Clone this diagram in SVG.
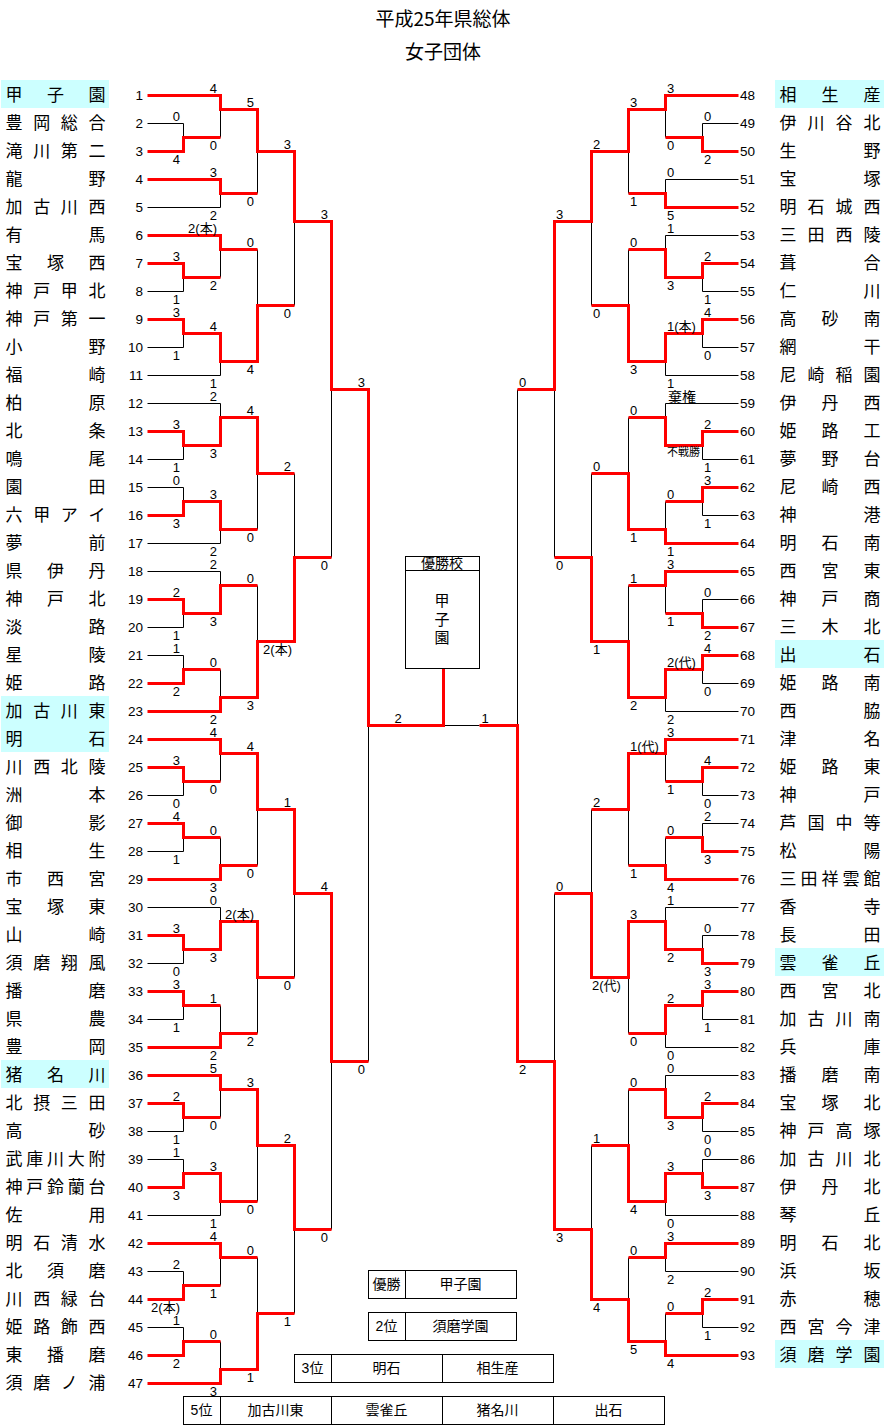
<svg xmlns="http://www.w3.org/2000/svg" width="885" height="1425" viewBox="0 0 885 1425">
<style>
.k{fill:none;stroke:#000;stroke-width:1}
.r{fill:none;stroke:#f00;stroke-width:3;stroke-linejoin:miter}
.bx{fill:#fff;stroke:#000;stroke-width:1}
.hl{fill:#ccffff}
.nm{font-family:"Noto Sans CJK JP",sans-serif;font-size:17px;text-anchor:middle;fill:#000}
.nl{font-family:"Liberation Sans",sans-serif;font-size:13.5px;text-anchor:end;fill:#000}
.nr{font-family:"Liberation Sans",sans-serif;font-size:13.5px;text-anchor:start;fill:#000}
.sl{font-family:"Liberation Sans","Noto Sans CJK JP",sans-serif;font-size:13px;text-anchor:end;fill:#000}
.sr{font-family:"Liberation Sans","Noto Sans CJK JP",sans-serif;font-size:13px;text-anchor:start;fill:#000}
.sm{font-family:"Liberation Sans","Noto Sans CJK JP",sans-serif;font-size:13px;text-anchor:middle;fill:#000}
.tt{font-family:"Noto Sans CJK JP",sans-serif;font-size:19px;text-anchor:middle;fill:#000}
.bt{font-family:"Liberation Sans","Noto Sans CJK JP",sans-serif;font-size:14px;text-anchor:middle;fill:#000}
</style>
<rect x="0" y="0" width="885" height="1425" fill="#fff"/>
<g id="title">
<text class="tt" x="443" y="26">平成25年県総体</text>
<text class="tt" x="443" y="59">女子団体</text>
</g>
<g id="left-teams">
<g id="t1"><rect class="hl" x="1" y="80" width="108" height="28"/><text class="nm" x="14 55.5 97" y="101">甲子園</text><text class="nl" x="143" y="100">1</text></g>
<g id="t2"><text class="nm" x="14 41.7 69.3 97" y="129">豊岡総合</text><text class="nl" x="143" y="128">2</text></g>
<g id="t3"><text class="nm" x="14 41.7 69.3 97" y="157">滝川第二</text><text class="nl" x="143" y="156">3</text></g>
<g id="t4"><text class="nm" x="14 97" y="185">龍野</text><text class="nl" x="143" y="184">4</text></g>
<g id="t5"><text class="nm" x="14 41.7 69.3 97" y="213">加古川西</text><text class="nl" x="143" y="212">5</text></g>
<g id="t6"><text class="nm" x="14 97" y="241">有馬</text><text class="nl" x="143" y="240">6</text></g>
<g id="t7"><text class="nm" x="14 55.5 97" y="269">宝塚西</text><text class="nl" x="143" y="268">7</text></g>
<g id="t8"><text class="nm" x="14 41.7 69.3 97" y="297">神戸甲北</text><text class="nl" x="143" y="296">8</text></g>
<g id="t9"><text class="nm" x="14 41.7 69.3 97" y="325">神戸第一</text><text class="nl" x="143" y="324">9</text></g>
<g id="t10"><text class="nm" x="14 97" y="353">小野</text><text class="nl" x="143" y="352">10</text></g>
<g id="t11"><text class="nm" x="14 97" y="381">福崎</text><text class="nl" x="143" y="380">11</text></g>
<g id="t12"><text class="nm" x="14 97" y="409">柏原</text><text class="nl" x="143" y="408">12</text></g>
<g id="t13"><text class="nm" x="14 97" y="437">北条</text><text class="nl" x="143" y="436">13</text></g>
<g id="t14"><text class="nm" x="14 97" y="465">鳴尾</text><text class="nl" x="143" y="464">14</text></g>
<g id="t15"><text class="nm" x="14 97" y="493">園田</text><text class="nl" x="143" y="492">15</text></g>
<g id="t16"><text class="nm" x="14 41.7 69.3 97" y="521">六甲アイ</text><text class="nl" x="143" y="520">16</text></g>
<g id="t17"><text class="nm" x="14 97" y="549">夢前</text><text class="nl" x="143" y="548">17</text></g>
<g id="t18"><text class="nm" x="14 55.5 97" y="577">県伊丹</text><text class="nl" x="143" y="576">18</text></g>
<g id="t19"><text class="nm" x="14 55.5 97" y="605">神戸北</text><text class="nl" x="143" y="604">19</text></g>
<g id="t20"><text class="nm" x="14 97" y="633">淡路</text><text class="nl" x="143" y="632">20</text></g>
<g id="t21"><text class="nm" x="14 97" y="661">星陵</text><text class="nl" x="143" y="660">21</text></g>
<g id="t22"><text class="nm" x="14 97" y="689">姫路</text><text class="nl" x="143" y="688">22</text></g>
<g id="t23"><rect class="hl" x="1" y="696" width="108" height="28"/><text class="nm" x="14 41.7 69.3 97" y="717">加古川東</text><text class="nl" x="143" y="716">23</text></g>
<g id="t24"><rect class="hl" x="1" y="724" width="108" height="28"/><text class="nm" x="14 97" y="745">明石</text><text class="nl" x="143" y="744">24</text></g>
<g id="t25"><text class="nm" x="14 41.7 69.3 97" y="773">川西北陵</text><text class="nl" x="143" y="772">25</text></g>
<g id="t26"><text class="nm" x="14 97" y="801">洲本</text><text class="nl" x="143" y="800">26</text></g>
<g id="t27"><text class="nm" x="14 97" y="829">御影</text><text class="nl" x="143" y="828">27</text></g>
<g id="t28"><text class="nm" x="14 97" y="857">相生</text><text class="nl" x="143" y="856">28</text></g>
<g id="t29"><text class="nm" x="14 55.5 97" y="885">市西宮</text><text class="nl" x="143" y="884">29</text></g>
<g id="t30"><text class="nm" x="14 55.5 97" y="913">宝塚東</text><text class="nl" x="143" y="912">30</text></g>
<g id="t31"><text class="nm" x="14 97" y="941">山崎</text><text class="nl" x="143" y="940">31</text></g>
<g id="t32"><text class="nm" x="14 41.7 69.3 97" y="969">須磨翔風</text><text class="nl" x="143" y="968">32</text></g>
<g id="t33"><text class="nm" x="14 97" y="997">播磨</text><text class="nl" x="143" y="996">33</text></g>
<g id="t34"><text class="nm" x="14 97" y="1025">県農</text><text class="nl" x="143" y="1024">34</text></g>
<g id="t35"><text class="nm" x="14 97" y="1053">豊岡</text><text class="nl" x="143" y="1052">35</text></g>
<g id="t36"><rect class="hl" x="1" y="1060" width="108" height="28"/><text class="nm" x="14 55.5 97" y="1081">猪名川</text><text class="nl" x="143" y="1080">36</text></g>
<g id="t37"><text class="nm" x="14 41.7 69.3 97" y="1109">北摂三田</text><text class="nl" x="143" y="1108">37</text></g>
<g id="t38"><text class="nm" x="14 97" y="1137">高砂</text><text class="nl" x="143" y="1136">38</text></g>
<g id="t39"><text class="nm" x="14 34.75 55.5 76.25 97" y="1165">武庫川大附</text><text class="nl" x="143" y="1164">39</text></g>
<g id="t40"><text class="nm" x="14 34.75 55.5 76.25 97" y="1193">神戸鈴蘭台</text><text class="nl" x="143" y="1192">40</text></g>
<g id="t41"><text class="nm" x="14 97" y="1221">佐用</text><text class="nl" x="143" y="1220">41</text></g>
<g id="t42"><text class="nm" x="14 41.7 69.3 97" y="1249">明石清水</text><text class="nl" x="143" y="1248">42</text></g>
<g id="t43"><text class="nm" x="14 55.5 97" y="1277">北須磨</text><text class="nl" x="143" y="1276">43</text></g>
<g id="t44"><text class="nm" x="14 41.7 69.3 97" y="1305">川西緑台</text><text class="nl" x="143" y="1304">44</text></g>
<g id="t45"><text class="nm" x="14 41.7 69.3 97" y="1333">姫路飾西</text><text class="nl" x="143" y="1332">45</text></g>
<g id="t46"><text class="nm" x="14 55.5 97" y="1361">東播磨</text><text class="nl" x="143" y="1360">46</text></g>
<g id="t47"><text class="nm" x="14 41.7 69.3 97" y="1389">須磨ノ浦</text><text class="nl" x="143" y="1388">47</text></g>
</g>
<g id="right-teams">
<g id="t48"><rect class="hl" x="775" y="80" width="109" height="28"/><text class="nm" x="788 830 872" y="101">相生産</text><text class="nr" x="740" y="100">48</text></g>
<g id="t49"><text class="nm" x="788 816 844 872" y="129">伊川谷北</text><text class="nr" x="740" y="128">49</text></g>
<g id="t50"><text class="nm" x="788 872" y="157">生野</text><text class="nr" x="740" y="156">50</text></g>
<g id="t51"><text class="nm" x="788 872" y="185">宝塚</text><text class="nr" x="740" y="184">51</text></g>
<g id="t52"><text class="nm" x="788 816 844 872" y="213">明石城西</text><text class="nr" x="740" y="212">52</text></g>
<g id="t53"><text class="nm" x="788 816 844 872" y="241">三田西陵</text><text class="nr" x="740" y="240">53</text></g>
<g id="t54"><text class="nm" x="788 872" y="269">葺合</text><text class="nr" x="740" y="268">54</text></g>
<g id="t55"><text class="nm" x="788 872" y="297">仁川</text><text class="nr" x="740" y="296">55</text></g>
<g id="t56"><text class="nm" x="788 830 872" y="325">高砂南</text><text class="nr" x="740" y="324">56</text></g>
<g id="t57"><text class="nm" x="788 872" y="353">網干</text><text class="nr" x="740" y="352">57</text></g>
<g id="t58"><text class="nm" x="788 816 844 872" y="381">尼崎稲園</text><text class="nr" x="740" y="380">58</text></g>
<g id="t59"><text class="nm" x="788 830 872" y="409">伊丹西</text><text class="nr" x="740" y="408">59</text></g>
<g id="t60"><text class="nm" x="788 830 872" y="437">姫路工</text><text class="nr" x="740" y="436">60</text></g>
<g id="t61"><text class="nm" x="788 830 872" y="465">夢野台</text><text class="nr" x="740" y="464">61</text></g>
<g id="t62"><text class="nm" x="788 830 872" y="493">尼崎西</text><text class="nr" x="740" y="492">62</text></g>
<g id="t63"><text class="nm" x="788 872" y="521">神港</text><text class="nr" x="740" y="520">63</text></g>
<g id="t64"><text class="nm" x="788 830 872" y="549">明石南</text><text class="nr" x="740" y="548">64</text></g>
<g id="t65"><text class="nm" x="788 830 872" y="577">西宮東</text><text class="nr" x="740" y="576">65</text></g>
<g id="t66"><text class="nm" x="788 830 872" y="605">神戸商</text><text class="nr" x="740" y="604">66</text></g>
<g id="t67"><text class="nm" x="788 830 872" y="633">三木北</text><text class="nr" x="740" y="632">67</text></g>
<g id="t68"><rect class="hl" x="775" y="640" width="109" height="28"/><text class="nm" x="788 872" y="661">出石</text><text class="nr" x="740" y="660">68</text></g>
<g id="t69"><text class="nm" x="788 830 872" y="689">姫路南</text><text class="nr" x="740" y="688">69</text></g>
<g id="t70"><text class="nm" x="788 872" y="717">西脇</text><text class="nr" x="740" y="716">70</text></g>
<g id="t71"><text class="nm" x="788 872" y="745">津名</text><text class="nr" x="740" y="744">71</text></g>
<g id="t72"><text class="nm" x="788 830 872" y="773">姫路東</text><text class="nr" x="740" y="772">72</text></g>
<g id="t73"><text class="nm" x="788 872" y="801">神戸</text><text class="nr" x="740" y="800">73</text></g>
<g id="t74"><text class="nm" x="788 816 844 872" y="829">芦国中等</text><text class="nr" x="740" y="828">74</text></g>
<g id="t75"><text class="nm" x="788 872" y="857">松陽</text><text class="nr" x="740" y="856">75</text></g>
<g id="t76"><text class="nm" x="788 809 830 851 872" y="885">三田祥雲館</text><text class="nr" x="740" y="884">76</text></g>
<g id="t77"><text class="nm" x="788 872" y="913">香寺</text><text class="nr" x="740" y="912">77</text></g>
<g id="t78"><text class="nm" x="788 872" y="941">長田</text><text class="nr" x="740" y="940">78</text></g>
<g id="t79"><rect class="hl" x="775" y="948" width="109" height="28"/><text class="nm" x="788 830 872" y="969">雲雀丘</text><text class="nr" x="740" y="968">79</text></g>
<g id="t80"><text class="nm" x="788 830 872" y="997">西宮北</text><text class="nr" x="740" y="996">80</text></g>
<g id="t81"><text class="nm" x="788 816 844 872" y="1025">加古川南</text><text class="nr" x="740" y="1024">81</text></g>
<g id="t82"><text class="nm" x="788 872" y="1053">兵庫</text><text class="nr" x="740" y="1052">82</text></g>
<g id="t83"><text class="nm" x="788 830 872" y="1081">播磨南</text><text class="nr" x="740" y="1080">83</text></g>
<g id="t84"><text class="nm" x="788 830 872" y="1109">宝塚北</text><text class="nr" x="740" y="1108">84</text></g>
<g id="t85"><text class="nm" x="788 816 844 872" y="1137">神戸高塚</text><text class="nr" x="740" y="1136">85</text></g>
<g id="t86"><text class="nm" x="788 816 844 872" y="1165">加古川北</text><text class="nr" x="740" y="1164">86</text></g>
<g id="t87"><text class="nm" x="788 830 872" y="1193">伊丹北</text><text class="nr" x="740" y="1192">87</text></g>
<g id="t88"><text class="nm" x="788 872" y="1221">琴丘</text><text class="nr" x="740" y="1220">88</text></g>
<g id="t89"><text class="nm" x="788 830 872" y="1249">明石北</text><text class="nr" x="740" y="1248">89</text></g>
<g id="t90"><text class="nm" x="788 872" y="1277">浜坂</text><text class="nr" x="740" y="1276">90</text></g>
<g id="t91"><text class="nm" x="788 872" y="1305">赤穂</text><text class="nr" x="740" y="1304">91</text></g>
<g id="t92"><text class="nm" x="788 816 844 872" y="1333">西宮今津</text><text class="nr" x="740" y="1332">92</text></g>
<g id="t93"><rect class="hl" x="775" y="1340" width="109" height="28"/><text class="nm" x="788 816 844 872" y="1361">須磨学園</text><text class="nr" x="740" y="1360">93</text></g>
</g>
<g id="connectors" transform="translate(0.5 0.5)">
<path class="k" d="M147 123H183M147 207H220M147 291H183M147 347H183M147 375H220M147 403H220M147 459H183M147 487H183M147 543H220M147 571H220M147 627H183M147 655H183M147 795H183M147 851H183M147 907H220M147 963H183M147 1019H183M147 1131H183M147 1159H183M147 1215H220M147 1271H183M147 1327H183
M183 123V151M183 263V291M183 319V347M183 431V459M183 487V515M183 599V627M183 655V683M183 767V795M183 823V851M183 935V963M183 991V1019M183 1103V1131M183 1159V1187M183 1271V1299M183 1327V1355
M220 95V137M220 179V207M220 235V277M220 333V375M220 403V445M220 501V543M220 571V613M220 669V711M220 739V781M220 837V879M220 907V949M220 1005V1047M220 1075V1117M220 1173V1215M220 1243V1285M220 1341V1383
M257 109V193M257 249V361M257 417V529M257 585V697M257 753V865M257 921V1033M257 1089V1201M257 1257V1369
M294 151V305M294 473V641M294 809V977M294 1145V1313M331 221V557M331 893V1229M368 389V1061"/>
<path class="k" d="M702 123H738M665 179H738M665 235H738M702 291H738M702 347H738M665 375H738M665 403H738M702 459H738M702 515H738M702 599H738M702 683H738M665 711H738M702 795H738M702 823H738M665 907H738M702 935H738M702 1019H738M665 1047H738M665 1075H738M702 1131H738M702 1159H738M665 1215H738M665 1271H738M702 1327H738
M702 123V151M702 263V291M702 319V347M702 431V459M702 487V515M702 599V627M702 655V683M702 767V795M702 823V851M702 935V963M702 991V1019M702 1103V1131M702 1159V1187M702 1299V1327
M665 95V137M665 179V207M665 235V277M665 333V375M665 403V445M665 501V543M665 571V613M665 669V711M665 739V781M665 837V879M665 907V949M665 1005V1047M665 1075V1117M665 1173V1215M665 1243V1271M665 1313V1355
M628 109V193M628 249V361M628 417V529M628 585V697M628 753V865M628 921V1033M628 1089V1201M628 1257V1341
M591 151V305M591 473V641M591 809V977M591 1145V1299M554 221V557M554 893V1229M517 389V1061M443 725H479"/>
<path class="r" d="M147 95H220V109H257V151H294V221H331V389H368V725H443V668
M147 151H183V137H220M147 179H220V193H257M147 235H220V249H257M147 263H183V277H220
M147 319H183V333H220V361H257V305H294M147 431H183V445H220V417H257V473H294
M147 515H183V501H220V529H257M147 599H183V613H220V585H257M147 683H183V669H220
M147 711H220V697H257V641H294V557H331M147 739H220V753H257V809H294V893H331V1061H368
M147 767H183V781H220M147 823H183V837H220M147 879H220V865H257M147 935H183V949H220V921H257V977H294
M147 991H183V1005H220M147 1047H220V1033H257M147 1075H220V1089H257V1145H294V1229H331
M147 1103H183V1117H220M147 1187H183V1173H220V1201H257M147 1243H220V1257H257
M147 1299H183V1285H220M147 1355H183V1341H220M147 1383H220V1369H257V1313H294"/>
<path class="r" d="M738 95H665V109H628V151H591V221H554V389H517M738 151H702V137H665M738 207H665V193H628
M738 263H702V277H665V249H628M738 319H702V333H665V361H628V305H591M738 431H702V445H665V417H628
M738 487H702V501H665M738 543H665V529H628V473H591M738 571H665V585H628M738 627H702V613H665
M738 655H702V669H665V697H628V641H591V557H554M738 739H665V753H628V809H591
M738 767H702V781H665M738 851H702V837H665M738 879H665V865H628
M738 963H702V949H665V921H628V977H591V893H554M738 991H702V1005H665V1033H628
M738 1103H702V1117H665V1089H628M738 1187H702V1173H665V1201H628V1145H591
M738 1243H665V1257H628M738 1299H702V1313H665M738 1355H665V1341H628V1299H591V1229H554V1061H517V725H479"/>
</g>
<g id="scores-left">
<text class="sl" x="180" y="121">0</text><text class="sl" x="180" y="164">4</text>
<text class="sl" x="180" y="261">3</text><text class="sl" x="180" y="304">1</text>
<text class="sl" x="180" y="317">3</text><text class="sl" x="180" y="360">1</text>
<text class="sl" x="180" y="429">3</text><text class="sl" x="180" y="472">1</text>
<text class="sl" x="180" y="485">0</text><text class="sl" x="180" y="528">3</text>
<text class="sl" x="180" y="597">2</text><text class="sl" x="180" y="640">1</text>
<text class="sl" x="180" y="653">1</text><text class="sl" x="180" y="696">2</text>
<text class="sl" x="180" y="765">3</text><text class="sl" x="180" y="808">0</text>
<text class="sl" x="180" y="821">4</text><text class="sl" x="180" y="864">1</text>
<text class="sl" x="180" y="933">3</text><text class="sl" x="180" y="976">0</text>
<text class="sl" x="180" y="989">3</text><text class="sl" x="180" y="1032">1</text>
<text class="sl" x="180" y="1101">2</text><text class="sl" x="180" y="1144">1</text>
<text class="sl" x="180" y="1157">1</text><text class="sl" x="180" y="1200">3</text>
<text class="sl" x="180" y="1269">2</text><text class="sl" x="180" y="1312">2(本)</text>
<text class="sl" x="180" y="1325">1</text><text class="sl" x="180" y="1368">2</text>
<text class="sl" x="217" y="93">4</text><text class="sl" x="217" y="150">0</text>
<text class="sl" x="217" y="177">3</text><text class="sl" x="217" y="220">2</text>
<text class="sl" x="217" y="233">2(本)</text><text class="sl" x="217" y="290">2</text>
<text class="sl" x="217" y="331">4</text><text class="sl" x="217" y="388">1</text>
<text class="sl" x="217" y="401">2</text><text class="sl" x="217" y="458">3</text>
<text class="sl" x="217" y="499">3</text><text class="sl" x="217" y="556">2</text>
<text class="sl" x="217" y="569">2</text><text class="sl" x="217" y="626">3</text>
<text class="sl" x="217" y="667">0</text><text class="sl" x="217" y="724">2</text>
<text class="sl" x="217" y="737">4</text><text class="sl" x="217" y="794">0</text>
<text class="sl" x="217" y="835">0</text><text class="sl" x="217" y="892">3</text>
<text class="sl" x="217" y="905">0</text><text class="sl" x="217" y="962">3</text>
<text class="sl" x="217" y="1003">1</text><text class="sl" x="217" y="1060">2</text>
<text class="sl" x="217" y="1073">5</text><text class="sl" x="217" y="1130">0</text>
<text class="sl" x="217" y="1171">3</text><text class="sl" x="217" y="1228">1</text>
<text class="sl" x="217" y="1241">4</text><text class="sl" x="217" y="1298">1</text>
<text class="sl" x="217" y="1339">0</text><text class="sl" x="217" y="1396">3</text>
<text class="sl" x="254" y="107">5</text><text class="sl" x="254" y="206">0</text>
<text class="sl" x="254" y="247">0</text><text class="sl" x="254" y="374">4</text>
<text class="sl" x="254" y="415">4</text><text class="sl" x="254" y="542">0</text>
<text class="sl" x="254" y="583">0</text><text class="sl" x="254" y="710">3</text>
<text class="sl" x="254" y="751">4</text><text class="sl" x="254" y="878">0</text>
<text class="sl" x="254" y="919">2(本)</text><text class="sl" x="254" y="1046">2</text>
<text class="sl" x="254" y="1087">3</text><text class="sl" x="254" y="1214">0</text>
<text class="sl" x="254" y="1255">0</text><text class="sl" x="254" y="1382">1</text>
<text class="sl" x="291" y="149">3</text><text class="sl" x="291" y="318">0</text>
<text class="sl" x="291" y="471">2</text><text class="sl" x="292" y="654">2(本)</text>
<text class="sl" x="291" y="807">1</text><text class="sl" x="291" y="990">0</text>
<text class="sl" x="291" y="1143">2</text><text class="sl" x="291" y="1326">1</text>
<text class="sl" x="328" y="219">3</text><text class="sl" x="328" y="570">0</text>
<text class="sl" x="328" y="891">4</text><text class="sl" x="328" y="1242">0</text>
<text class="sl" x="365" y="387">3</text><text class="sl" x="365" y="1074">0</text>
</g>
<g id="scores-right">
<text class="sr" x="704" y="121">0</text><text class="sr" x="704" y="164">2</text>
<text class="sr" x="704" y="261">2</text><text class="sr" x="704" y="304">1</text>
<text class="sr" x="704" y="317">4</text><text class="sr" x="704" y="360">0</text>
<text class="sr" x="704" y="429">2</text><text class="sr" x="704" y="472">1</text>
<text class="sr" x="704" y="485">3</text><text class="sr" x="704" y="528">1</text>
<text class="sr" x="704" y="597">0</text><text class="sr" x="704" y="640">2</text>
<text class="sr" x="704" y="653">4</text><text class="sr" x="704" y="696">0</text>
<text class="sr" x="704" y="765">4</text><text class="sr" x="704" y="808">0</text>
<text class="sr" x="704" y="821">2</text><text class="sr" x="704" y="864">3</text>
<text class="sr" x="704" y="933">0</text><text class="sr" x="704" y="976">3</text>
<text class="sr" x="704" y="989">3</text><text class="sr" x="704" y="1032">1</text>
<text class="sr" x="704" y="1101">2</text><text class="sr" x="704" y="1144">0</text>
<text class="sr" x="704" y="1157">0</text><text class="sr" x="704" y="1200">3</text>
<text class="sr" x="704" y="1297">2</text><text class="sr" x="704" y="1340">1</text>
<text class="sr" x="667" y="93">3</text><text class="sr" x="667" y="150">0</text>
<text class="sr" x="667" y="177">0</text><text class="sr" x="667" y="220">5</text>
<text class="sr" x="667" y="233">1</text><text class="sr" x="667" y="290">3</text>
<text class="sr" x="667" y="331">1(本)</text><text class="sr" x="667" y="388">1</text>
<text class="sr" x="668" y="402" style="font-size:14px">棄権</text><text class="sr" x="667" y="456" style="font-size:11px">不戦勝</text>
<text class="sr" x="667" y="499">0</text><text class="sr" x="667" y="556">1</text>
<text class="sr" x="667" y="569">3</text><text class="sr" x="667" y="626">1</text>
<text class="sr" x="667" y="667">2(代)</text><text class="sr" x="667" y="724">2</text>
<text class="sr" x="667" y="737">3</text><text class="sr" x="667" y="794">1</text>
<text class="sr" x="667" y="835">0</text><text class="sr" x="667" y="892">4</text>
<text class="sr" x="667" y="905">1</text><text class="sr" x="667" y="962">2</text>
<text class="sr" x="667" y="1003">2</text><text class="sr" x="667" y="1060">0</text>
<text class="sr" x="667" y="1073">0</text><text class="sr" x="667" y="1130">3</text>
<text class="sr" x="667" y="1171">3</text><text class="sr" x="667" y="1228">0</text>
<text class="sr" x="667" y="1241">3</text><text class="sr" x="667" y="1284">2</text>
<text class="sr" x="667" y="1311">0</text><text class="sr" x="667" y="1368">4</text>
<text class="sr" x="630" y="107">3</text><text class="sr" x="630" y="206">1</text>
<text class="sr" x="630" y="247">0</text><text class="sr" x="630" y="374">3</text>
<text class="sr" x="630" y="415">0</text><text class="sr" x="630" y="542">1</text>
<text class="sr" x="630" y="583">1</text><text class="sr" x="630" y="710">2</text>
<text class="sr" x="630" y="751">1(代)</text><text class="sr" x="630" y="878">1</text>
<text class="sr" x="630" y="919">3</text><text class="sr" x="630" y="1046">0</text>
<text class="sr" x="630" y="1087">0</text><text class="sr" x="630" y="1214">4</text>
<text class="sr" x="630" y="1255">0</text><text class="sr" x="630" y="1354">5</text>
<text class="sr" x="593" y="149">2</text><text class="sr" x="593" y="318">0</text>
<text class="sr" x="593" y="471">0</text><text class="sr" x="593" y="654">1</text>
<text class="sr" x="593" y="807">2</text><text class="sr" x="592" y="990">2(代)</text>
<text class="sr" x="593" y="1143">1</text><text class="sr" x="593" y="1312">4</text>
<text class="sr" x="556" y="219">3</text><text class="sr" x="556" y="570">0</text>
<text class="sr" x="556" y="891">0</text><text class="sr" x="556" y="1242">3</text>
<text class="sr" x="519" y="387">0</text><text class="sr" x="519" y="1074">2</text>
</g>
<g id="final-scores">
<text class="sm" x="398" y="723">2</text>
<text class="sm" x="485" y="723">1</text>
</g>
<g id="champion-box" transform="translate(0.5 0.5)">
<rect class="bx" x="405" y="556" width="74" height="112"/>
<path class="k" d="M405 570H479"/>
</g>
<g id="champion-text">
<text class="bt" x="442" y="568">優勝校</text>
<text class="bt" x="442" y="606" style="font-size:15px">甲</text>
<text class="bt" x="442" y="625" style="font-size:15px">子</text>
<text class="bt" x="442" y="643" style="font-size:15px">園</text>
</g>
<g id="result-1st">
<g transform="translate(0.5 0.5)"><rect class="bx" x="368" y="1270" width="148" height="28"/><path class="k" d="M405 1270V1298"/></g>
<text class="bt" x="386.5" y="1289">優勝</text><text class="bt" x="460.5" y="1289">甲子園</text>
</g>
<g id="result-2nd">
<g transform="translate(0.5 0.5)"><rect class="bx" x="368" y="1312" width="148" height="28"/><path class="k" d="M405 1312V1340"/></g>
<text class="bt" x="386.5" y="1331">2位</text><text class="bt" x="460.5" y="1331">須磨学園</text>
</g>
<g id="result-3rd">
<g transform="translate(0.5 0.5)"><rect class="bx" x="294" y="1354" width="259" height="28"/><path class="k" d="M331 1354V1382M442 1354V1382"/></g>
<text class="bt" x="312.5" y="1373">3位</text><text class="bt" x="386.5" y="1373">明石</text><text class="bt" x="497.5" y="1373">相生産</text>
</g>
<g id="result-5th">
<g transform="translate(0.5 0.5)"><rect class="bx" x="183" y="1396" width="481" height="28"/><path class="k" d="M220 1396V1424M331 1396V1424M442 1396V1424M553 1396V1424"/></g>
<text class="bt" x="201.5" y="1415">5位</text><text class="bt" x="275.5" y="1415">加古川東</text><text class="bt" x="386.5" y="1415">雲雀丘</text><text class="bt" x="497.5" y="1415">猪名川</text><text class="bt" x="608.5" y="1415">出石</text>
</g>
</svg>
